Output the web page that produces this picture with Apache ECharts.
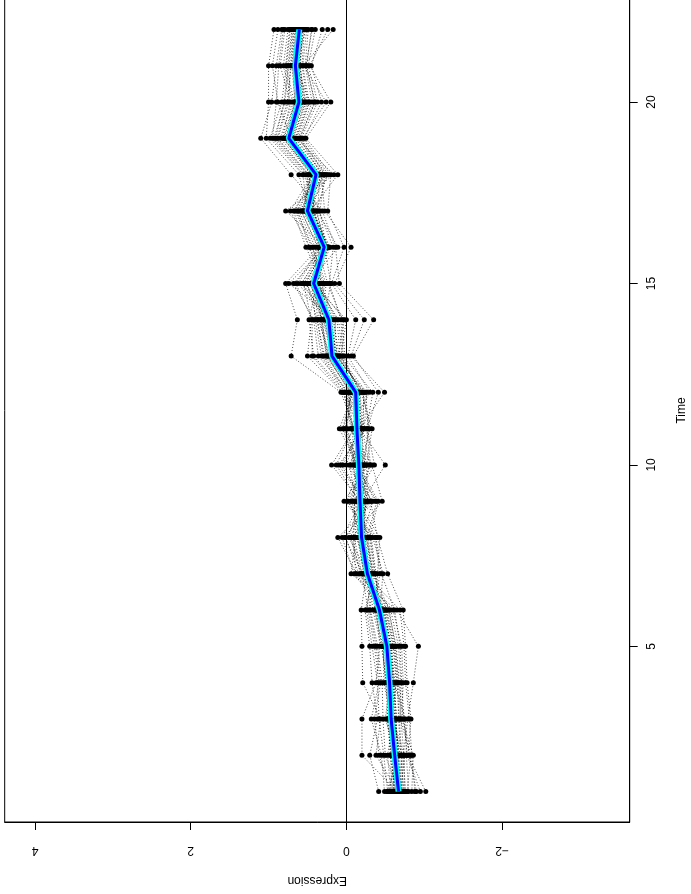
<!DOCTYPE html>
<html>
<head>
<meta charset="utf-8">
<script src="https://cdn.jsdelivr.net/npm/echarts@6/dist/echarts.min.js"></script>
<style>
  html, body { margin: 0; padding: 0; background: #fff; }
  #chart { width: 691px; height: 894px; }
</style>
</head>
<body>
<div id="chart"></div>
<script>
// Time points of the expression series
const times = [1, 2, 3, 4, 5, 6, 7, 8, 9, 10, 11, 12, 13, 14, 15, 16, 17, 18, 19, 20, 21, 22];

// Expression of each gene (36 genes) at every time point, one row per time point
const valuesAtTime = [
  [-0.62, -0.90, -0.55, -0.71, -0.415, -0.76, -0.64, -0.52, -0.84, -0.67, -0.59, -1.02, -0.70, -0.57, -0.78, -0.63, -0.49, -0.74, -0.66, -0.80, -0.60, -0.72, -0.65, -0.68, -0.58, -0.73, -0.66, -0.88, -0.53, -0.69, -0.61, -0.95, -0.64, -0.75, -0.56, -0.70],
  [-0.58, -0.81, -0.63, -0.66, -0.30, -0.73, -0.56, -0.69, -0.86, -0.50, -0.62, -0.79, -0.75, -0.53, -0.83, -0.60, -0.45, -0.70, -0.38, -0.77, -0.65, -0.68, -0.20, -0.72, -0.57, -0.71, -0.64, -0.84, -0.48, -0.67, -0.59, -0.78, -0.61, -0.74, -0.42, -0.66],
  [-0.52, -0.73, -0.57, -0.64, -0.40, -0.79, -0.54, -0.61, -0.71, -0.47, -0.65, -0.83, -0.59, -0.60, -0.69, -0.56, -0.32, -0.67, -0.44, -0.76, -0.50, -0.62, -0.20, -0.58, -0.55, -0.68, -0.60, -0.81, -0.42, -0.63, -0.53, -0.74, -0.58, -0.70, -0.36, -0.62],
  [-0.55, -0.68, -0.50, -0.62, -0.33, -0.86, -0.58, -0.53, -0.73, -0.46, -0.60, -0.78, -0.64, -0.52, -0.70, -0.57, -0.42, -0.66, -0.21, -0.61, -0.56, -0.59, -0.38, -0.48, -0.54, -0.65, -0.57, -0.76, -0.40, -0.62, -0.51, -0.71, -0.55, -0.67, -0.44, -0.60],
  [-0.49, -0.64, -0.47, -0.57, -0.30, -0.925, -0.53, -0.51, -0.71, -0.40, -0.58, -0.76, -0.60, -0.45, -0.67, -0.52, -0.36, -0.62, -0.20, -0.55, -0.50, -0.54, -0.43, -0.48, -0.50, -0.61, -0.53, -0.74, -0.33, -0.58, -0.46, -0.69, -0.52, -0.63, -0.38, -0.56],
  [-0.41, -0.54, -0.36, -0.49, -0.24, -0.65, -0.44, -0.38, -0.60, -0.31, -0.47, -0.73, -0.50, -0.34, -0.57, -0.43, -0.28, -0.52, -0.19, -0.45, -0.40, -0.46, -0.39, -0.42, -0.40, -0.51, -0.44, -0.69, -0.26, -0.48, -0.37, -0.62, -0.43, -0.55, -0.30, -0.46],
  [-0.30, -0.16, -0.43, -0.22, -0.36, -0.06, -0.27, -0.40, -0.13, -0.32, -0.25, -0.53, -0.18, -0.29, -0.23, -0.47, -0.20, -0.34, -0.26, -0.10, -0.38, -0.24, -0.31, -0.28, -0.26, -0.19, -0.37, -0.24, -0.33, -0.12, -0.29, -0.45, -0.21, -0.35, -0.27, -0.30],
  [-0.24, 0.01, -0.37, -0.16, -0.30, -0.12, -0.19, -0.43, 0.11, -0.26, -0.17, -0.40, -0.07, -0.22, -0.14, -0.34, -0.10, -0.28, -0.20, 0.055, -0.32, -0.18, -0.21, -0.03, -0.20, -0.05, -0.31, -0.15, -0.27, -0.09, -0.23, -0.38, 0.02, -0.25, -0.18, -0.13],
  [-0.16, -0.29, 0.03, -0.20, -0.41, -0.10, -0.23, -0.14, -0.37, -0.18, -0.05, -0.31, -0.46, -0.12, -0.21, -0.08, -0.27, -0.15, -0.34, -0.19, -0.01, -0.22, -0.25, -0.17, -0.18, -0.26, -0.02, -0.22, -0.39, -0.11, -0.24, -0.13, -0.32, -0.16, -0.07, -0.28],
  [-0.19, -0.07, -0.28, 0.04, -0.15, -0.36, -0.11, -0.24, -0.13, 0.19, -0.20, -0.17, -0.33, -0.04, -0.50, -0.14, -0.26, -0.09, 0.00, -0.30, -0.16, 0.10, -0.22, -0.18, -0.16, -0.05, -0.25, 0.07, -0.12, -0.31, -0.18, -0.21, -0.10, 0.13, -0.23, -0.14],
  [-0.12, -0.23, -0.06, -0.16, -0.01, -0.27, -0.14, -0.19, 0.05, -0.10, -0.30, -0.13, -0.04, -0.21, -0.17, 0.09, -0.33, -0.08, -0.15, -0.20, 0.02, -0.25, -0.11, -0.18, -0.14, -0.22, -0.07, -0.18, 0.00, -0.26, -0.12, -0.20, 0.03, -0.09, -0.28, -0.15],
  [-0.10, -0.26, 0.03, -0.14, -0.05, -0.41, -0.12, -0.17, -0.08, 0.07, -0.21, -0.13, -0.30, -0.01, -0.49, -0.09, -0.19, -0.03, 0.01, -0.23, -0.11, 0.05, -0.15, -0.07, -0.12, -0.22, 0.00, -0.16, -0.06, -0.34, -0.10, -0.18, -0.04, 0.04, -0.25, -0.14],
  [0.19, 0.09, 0.32, 0.14, 0.25, -0.09, 0.17, 0.05, 0.21, 0.71, 0.11, 0.02, -0.02, 0.28, -0.06, 0.15, 0.07, 0.36, 0.42, 0.13, 0.18, 0.50, 0.16, 0.23, 0.20, 0.12, 0.30, 0.16, 0.26, 0.04, 0.19, 0.08, 0.24, 0.44, 0.14, 0.10],
  [0.30, 0.17, 0.40, 0.24, 0.34, -0.35, 0.26, 0.10, 0.36, 0.63, 0.22, 0.05, -0.12, 0.38, -0.23, 0.28, 0.00, 0.42, 0.48, 0.20, 0.29, 0.45, 0.14, 0.32, 0.27, 0.15, 0.37, 0.21, 0.31, 0.07, 0.25, 0.12, 0.33, 0.44, 0.19, 0.03],
  [0.52, 0.36, 0.44, 0.62, 0.28, 0.09, 0.46, 0.40, 0.31, 0.78, 0.58, 0.24, 0.19, 0.50, 0.15, 0.34, 0.43, 0.68, 0.38, 0.48, 0.20, 0.55, 0.74, 0.42, 0.47, 0.33, 0.41, 0.57, 0.26, 0.22, 0.45, 0.37, 0.30, 0.65, 0.53, 0.39],
  [0.29, 0.40, 0.25, 0.33, 0.47, 0.14, 0.22, 0.31, 0.52, 0.35, 0.26, 0.37, 0.03, 0.24, -0.06, 0.43, 0.30, 0.25, 0.32, 0.11, 0.28, 0.24, 0.27, 0.23, 0.30, 0.36, 0.26, 0.31, 0.44, 0.17, 0.24, 0.29, 0.48, 0.34, 0.27, 0.21],
  [0.47, 0.61, 0.39, 0.52, 0.72, 0.31, 0.45, 0.56, 0.68, 0.50, 0.34, 0.58, 0.24, 0.49, 0.28, 0.64, 0.41, 0.46, 0.54, 0.37, 0.51, 0.43, 0.78, 0.48, 0.49, 0.58, 0.42, 0.53, 0.66, 0.35, 0.47, 0.55, 0.62, 0.51, 0.38, 0.44],
  [0.40, 0.26, 0.52, 0.35, 0.44, 0.71, 0.30, 0.46, 0.37, 0.56, 0.28, 0.41, 0.20, 0.61, 0.32, 0.38, 0.49, 0.11, 0.42, 0.34, 0.23, 0.39, 0.16, 0.36, 0.39, 0.29, 0.48, 0.36, 0.43, 0.55, 0.33, 0.45, 0.38, 0.50, 0.25, 0.41],
  [0.76, 0.62, 0.93, 0.70, 0.85, 1.10, 0.66, 0.80, 0.73, 0.98, 0.58, 0.78, 0.54, 1.03, 0.60, 0.74, 0.89, 0.52, 0.82, 0.68, 0.56, 0.72, 0.64, 0.71, 0.75, 0.65, 0.88, 0.72, 0.81, 0.95, 0.69, 0.78, 0.74, 0.91, 0.60, 0.77],
  [0.62, 0.44, 0.79, 0.56, 0.69, 0.96, 0.50, 0.66, 0.58, 0.83, 0.37, 0.64, 0.32, 1.00, 0.41, 0.60, 0.76, 0.20, 0.72, 0.52, 0.26, 0.54, 0.47, 0.88, 0.61, 0.48, 0.74, 0.57, 0.67, 0.90, 0.53, 0.63, 0.59, 0.80, 0.40, 0.66],
  [0.64, 0.53, 0.74, 0.59, 0.81, 0.90, 0.57, 0.69, 0.61, 0.77, 0.49, 0.67, 0.45, 1.00, 0.51, 0.63, 0.71, 0.47, 0.85, 0.60, 0.55, 0.62, 0.65, 0.95, 0.66, 0.56, 0.72, 0.62, 0.78, 0.87, 0.60, 0.68, 0.64, 0.75, 0.52, 0.70],
  [0.61, 0.49, 0.69, 0.57, 0.75, 0.83, 0.54, 0.65, 0.58, 0.72, 0.40, 0.63, 0.31, 0.93, 0.45, 0.60, 0.67, 0.24, 0.79, 0.56, 0.17, 0.59, 0.52, 0.88, 0.62, 0.51, 0.68, 0.58, 0.73, 0.81, 0.55, 0.64, 0.60, 0.70, 0.44, 0.66]
];

// Cluster centre (mean profile)
const meanProfile = [-0.67, -0.62, -0.575, -0.555, -0.52, -0.425, -0.27, -0.195, -0.175, -0.16, -0.135, -0.12,
  0.185, 0.225, 0.42, 0.285, 0.50, 0.39, 0.74, 0.61, 0.655, 0.605];

// Axis ticks
const expressionTicks = [-2, 0, 2, 4];
const timeTicks = [5, 10, 15, 20];

const FONT = 'Liberation Sans, Arial, sans-serif';
const geneCount = valuesAtTime[0].length;
const series = [];

for (let g = 0; g < geneCount; g++) {
  series.push({
    type: 'line',
    silent: true,
    z: 2,
    symbol: 'circle',
    symbolSize: 5,
    showSymbol: true,
    itemStyle: { color: '#000' },
    lineStyle: { color: '#000', width: 0.7, type: [1, 2] },
    data: times.map((t, i) => [valuesAtTime[i][g], t])
  });
}

// mean profile: cyan halo under a blue core line
series.push({
  type: 'line',
  silent: true,
  z: 5,
  showSymbol: false,
  lineStyle: { color: '#00FFFF', width: 6 },
  data: times.map((t, i) => [meanProfile[i], t]),
  markLine: {
    silent: true,
    symbol: ['none', 'none'],
    label: { show: false },
    lineStyle: { color: '#000', width: 1, type: 'solid' },
    data: [{ xAxis: 0 }]
  }
});
series.push({
  type: 'line',
  silent: true,
  z: 6,
  showSymbol: false,
  lineStyle: { color: '#0000FF', width: 3 },
  data: times.map((t, i) => [meanProfile[i], t])
});

const minusFmt = v => (v < 0 ? '\u2212' + Math.abs(v) : String(v));

const chart = echarts.init(document.getElementById('chart'), null, { renderer: 'canvas' });
chart.setOption({
  animation: false,
  backgroundColor: '#fff',
  textStyle: { fontFamily: FONT },
  grid: {
    left: 4.7, right: 61.3, top: -1, bottom: 72,
    outerBoundsMode: 'none',
    containLabel: false,
    show: true, borderColor: '#000', borderWidth: 1, backgroundColor: 'transparent'
  },
  xAxis: {
    type: 'value',
    inverse: true,
    min: -3.64,
    max: 4.39,
    position: 'bottom',
    splitLine: { show: false },
    axisLine: { show: true, onZero: false, lineStyle: { color: '#000', width: 1 } },
    axisTick: { show: true, length: 8, customValues: expressionTicks, lineStyle: { color: '#000' } },
    axisLabel: {
      customValues: expressionTicks,
      rotate: 180,
      margin: 22,
      color: '#000',
      fontSize: 12,
      fontFamily: FONT,
      formatter: minusFmt
    },
    name: 'Expression',
    nameLocation: 'middle',
    nameRotate: 180,
    nameGap: 52,
    nameTextStyle: { color: '#000', fontSize: 12, fontFamily: FONT }
  },
  yAxis: {
    type: 'value',
    min: 0.16,
    max: 22.84,
    position: 'right',
    splitLine: { show: false },
    axisLine: { show: true, onZero: false, lineStyle: { color: '#000', width: 1 } },
    axisTick: { show: true, length: 8, customValues: timeTicks, lineStyle: { color: '#000' } },
    axisLabel: {
      customValues: timeTicks,
      rotate: 90,
      margin: 16,
      color: '#000',
      fontSize: 12,
      fontFamily: FONT
    },
    name: 'Time',
    nameLocation: 'middle',
    nameRotate: 90,
    nameGap: 46,
    nameTextStyle: { color: '#000', fontSize: 12, fontFamily: FONT }
  },
  series: series
});
</script>
</body>
</html>
